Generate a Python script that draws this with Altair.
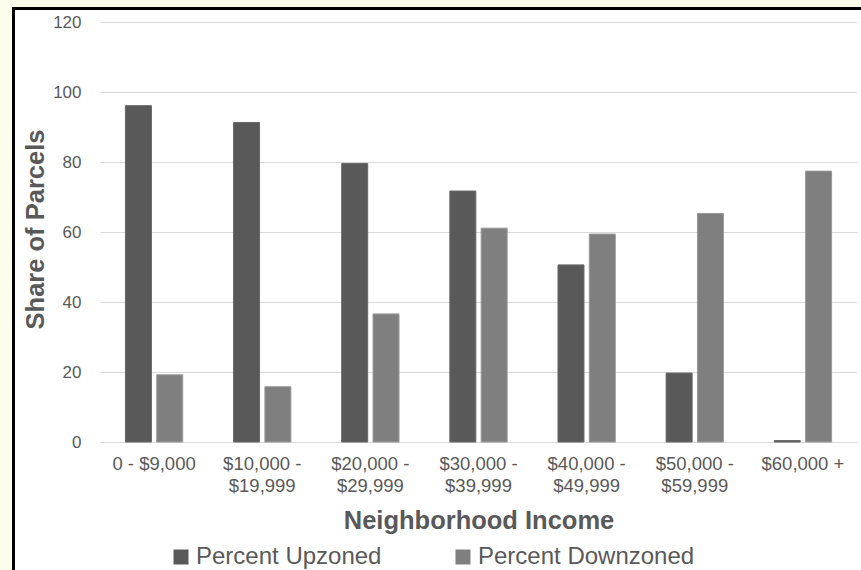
import altair as alt
import pandas as pd

categories = ["0 - $9,000", "$10,000 -\n$19,999", "$20,000 -\n$29,999", "$30,000 -\n$39,999",
              "$40,000 -\n$49,999", "$50,000 -\n$59,999", "$60,000 +"]
series = ["Percent Upzoned", "Percent Downzoned"]
upzoned = [96.1, 91.3, 79.6, 71.7, 50.6, 19.7, 0.4]
downzoned = [19.2, 15.8, 36.6, 61.1, 59.4, 65.3, 77.4]
y_ticks = [0, 20, 40, 60, 80, 100, 120]

rows = []
for c, u, d in zip(categories, upzoned, downzoned):
    rows.append({"cat": c, "series": series[0], "value": u})
    rows.append({"cat": c, "series": series[1], "value": d})
df = pd.DataFrame(rows)

FONT = "Liberation Sans"
TXT = "#595959"
W, H = 757, 420

bars = alt.Chart(df).mark_bar(strokeWidth=1).encode(
    x=alt.X("cat:N", sort=categories,
            scale=alt.Scale(paddingInner=0.47, paddingOuter=0.235),
            axis=alt.Axis(title="Neighborhood Income", labelExpr="split(datum.value, '\\n')",
                          labelAngle=0, labelFontSize=18.5, labelLineHeight=22, labelColor=TXT,
                          labelFont=FONT, labelPadding=12, ticks=False, domain=False,
                          titleFont=FONT, titleFontSize=25.5, titleFontWeight="bold",
                          titleColor=TXT, titleX=W / 2, titleY=86, titleBaseline="alphabetic",
                          titleAnchor="middle", titleAlign="center")),
    xOffset=alt.XOffset("series:N", sort=series,
                        scale=alt.Scale(domain=series, paddingInner=0.17, paddingOuter=0)),
    y=alt.Y("value:Q", scale=alt.Scale(domain=[0, 120], nice=False),
            axis=alt.Axis(title="Share of Parcels", values=y_ticks, labelFontSize=17,
                          labelColor=TXT, labelFont=FONT, labelPadding=19, ticks=False,
                          domain=False, gridColor="#d9d9d9", gridWidth=1,
                          titleFont=FONT, titleFontSize=25.5, titleFontWeight="bold",
                          titleColor=TXT, titleAngle=270, titleX=-57, titleY=207,
                          titleBaseline="alphabetic", titleAlign="center")),
    color=alt.Color("series:N", sort=series,
                    scale=alt.Scale(domain=series, range=["#595959", "#7f7f7f"]),
                    legend=alt.Legend(title=None, orient="none", legendX=69, legendY=523,
                                      direction="horizontal", symbolType="square",
                                      symbolSize=225, symbolStrokeWidth=0, labelFont=FONT,
                                      labelFontSize=24, labelColor=TXT, labelOffset=3,
                                      labelLimit=0, columnPadding=69, symbolOpacity=1)),
    stroke=alt.Stroke("series:N", sort=series,
                      scale=alt.Scale(domain=series, range=["#676767", "#9a9a9a"]),
                      legend=None),
)

yellow = "#FDFDEC"
top_strip = alt.Chart(df).mark_rect(color=yellow).encode(
    x=alt.value(-100), x2=alt.value(W + 10), y=alt.value(-22), y2=alt.value(-14))
left_strip = alt.Chart(df).mark_rect(color=yellow).encode(
    x=alt.value(-100), x2=alt.value(-87), y=alt.value(-22), y2=alt.value(H + 140))
frame = alt.Chart(df).mark_rect(fill="white", fillOpacity=0, stroke="black", strokeWidth=2).encode(
    x=alt.value(-86.5), x2=alt.value(W + 20), y=alt.value(-13.5), y2=alt.value(H + 160))

chart = alt.layer(top_strip, left_strip, frame, bars).properties(
    width=W, height=H,
    autosize=alt.AutoSizeParams(type="none"),
    padding={"left": 100, "top": 22, "right": 4, "bottom": 128},
    background="white",
).configure_view(stroke=None)

chart.save("out.html", embed_options={"renderer": "svg", "actions": False})
